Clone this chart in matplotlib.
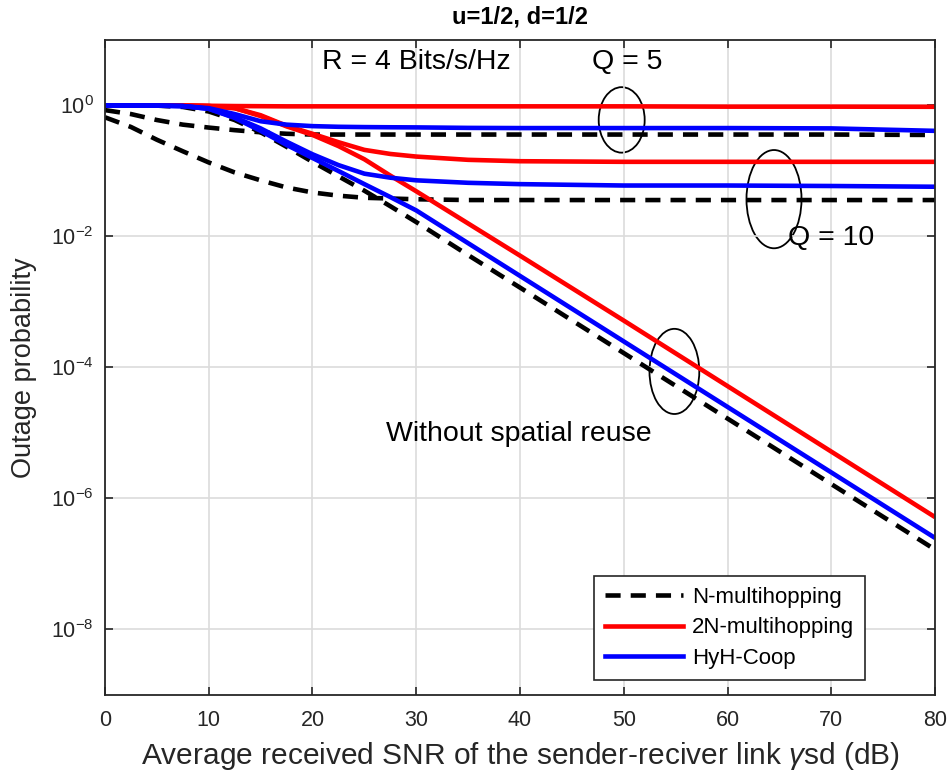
import numpy as np
import matplotlib.pyplot as plt
from matplotlib.patches import Ellipse
from matplotlib.ticker import LogFormatterSciNotation

plt.rcParams['font.family'] = ['Liberation Sans', 'DejaVu Sans']
plt.rcParams['mathtext.fontset'] = 'custom'
plt.rcParams['mathtext.rm'] = 'Liberation Sans'
plt.rcParams['mathtext.it'] = 'Liberation Sans:italic'

# average received SNR (dB)
snr = [0, 2.5, 5, 7.5, 10, 12.5, 15, 17.5, 20, 22.5, 25, 27.5, 30, 35, 40, 50, 60, 70, 80]

# N-multihopping
n_q5 = [0.85, 0.74, 0.60, 0.51, 0.46, 0.42, 0.39, 0.37, 0.36, 0.36, 0.36, 0.36, 0.36,
        0.36, 0.36, 0.36, 0.36, 0.36, 0.355]
n_q10 = [0.66, 0.47, 0.30, 0.20, 0.135, 0.095, 0.072, 0.056, 0.047, 0.042, 0.039, 0.038,
         0.037, 0.036, 0.036, 0.036, 0.036, 0.036, 0.036]
n_noreuse = [1.0, 1.0, 0.995, 0.95, 0.81, 0.60, 0.39, 0.234, 0.138, 0.083, 0.050, 0.029,
             0.0166, 5.2e-3, 1.66e-3, 1.66e-4, 1.66e-5, 1.66e-6, 1.66e-7]

# 2N-multihopping
r_q5 = [1.0, 1.0, 1.0, 0.995, 0.99, 0.98, 0.975, 0.97, 0.97, 0.97, 0.97, 0.97, 0.97,
        0.97, 0.97, 0.97, 0.96, 0.96, 0.955]
r_q10 = [1.0, 1.0, 1.0, 1.0, 0.98, 0.91, 0.71, 0.49, 0.37, 0.275, 0.21, 0.182, 0.166,
         0.148, 0.141, 0.138, 0.138, 0.138, 0.138]
r_noreuse = [1.0, 1.0, 1.0, 1.0, 0.98, 0.91, 0.69, 0.48, 0.355, 0.24, 0.151, 0.085, 0.049,
             0.0158, 5.1e-3, 5.2e-4, 5.2e-5, 5.2e-6, 5.2e-7]

# HyH-Coop
h_q5 = [1.0, 1.0, 0.995, 0.98, 0.91, 0.74, 0.575, 0.51, 0.484, 0.473, 0.468, 0.465, 0.463,
        0.455, 0.452, 0.452, 0.452, 0.447, 0.41]
h_q10 = [1.0, 1.0, 0.995, 0.98, 0.89, 0.66, 0.447, 0.28, 0.18, 0.123, 0.091, 0.079, 0.072,
         0.066, 0.063, 0.060, 0.060, 0.059, 0.0575]
h_noreuse = [1.0, 1.0, 0.995, 0.98, 0.89, 0.645, 0.41, 0.25, 0.158, 0.10, 0.063, 0.040,
             0.025, 7.9e-3, 2.5e-3, 2.5e-4, 2.5e-5, 2.5e-6, 2.5e-7]

fig = plt.figure(figsize=(9.51, 7.78), dpi=100)
ax = fig.add_axes([0.1104, 0.1067, 0.8728, 0.8419])

lw = 3.3
dash = (0, (3.3, 2.2))
for ys in (n_q5, n_q10, n_noreuse):
    ax.semilogy(snr, ys, color='black', lw=lw, linestyle=dash)
for ys in (r_q5, r_q10, r_noreuse):
    ax.semilogy(snr, ys, color='#ff0000', lw=lw, solid_capstyle='butt')
for ys in (h_q5, h_q10, h_noreuse):
    ax.semilogy(snr, ys, color='#0000ff', lw=lw, solid_capstyle='butt')

ax.set_xlim(0, 80)
ax.set_ylim(1e-9, 1e1)
ax.set_xticks(np.arange(0, 81, 10))
ax.set_yticks([1e-8, 1e-6, 1e-4, 1e-2, 1e0])
ax.yaxis.set_major_formatter(LogFormatterSciNotation())
ax.minorticks_off()
ax.grid(True, color='#dcdcdc', lw=1.2)
ax.tick_params(direction='in', top=True, right=True, length=6, width=1.2,
               labelsize=15.5, colors='#262626')
ax.tick_params(axis='x', pad=11)
ax.tick_params(axis='y', pad=8)
for s in ax.spines.values():
    s.set_color('#262626')
    s.set_linewidth(1.3)

ax.set_xlabel(r'Average received SNR of the sender-reciver link $\gamma$sd (dB)',
              fontsize=21.5, color='#262626', labelpad=6)
ax.set_ylabel('Outage probability', fontsize=19.5, color='#262626', labelpad=10)
ax.set_title('u=1/2, d=1/2', fontsize=17, fontweight='bold', pad=12)

ax.text(20.9, 4.6, 'R = 4 Bits/s/Hz', fontsize=20.5, va='center', ha='left')
ax.text(50.3, 4.6, 'Q = 5', fontsize=20.5, va='center', ha='center')
ax.text(65.8, 9.5e-3, 'Q = 10', fontsize=20.5, va='center', ha='left')
ax.text(27.1, 9.6e-6, 'Without spatial reuse', fontsize=20.5, va='center', ha='left')

for cx, cy, w, h in [(0.6225, 0.878, 0.0554, 0.100),
                     (0.806, 0.757, 0.0663, 0.150),
                     (0.686, 0.494, 0.0600, 0.130)]:
    ax.add_patch(Ellipse((cx, cy), w, h, transform=ax.transAxes,
                         fill=False, ec='black', lw=1.3))

leg_handles = [plt.Line2D([], [], color='black', lw=lw, linestyle=dash),
               plt.Line2D([], [], color='#ff0000', lw=lw),
               plt.Line2D([], [], color='#0000ff', lw=lw)]
leg = ax.legend(leg_handles, ['N-multihopping', '2N-multihopping', 'HyH-Coop'],
                loc='lower right', bbox_to_anchor=(0.916, 0.023), borderaxespad=0,
                fontsize=16, fancybox=False, framealpha=1, edgecolor='#262626',
                handlelength=3.5, handletextpad=0.4, borderpad=0.5, labelspacing=0.42)
leg.get_frame().set_linewidth(1.2)

fig.savefig('out.png', dpi=100)
